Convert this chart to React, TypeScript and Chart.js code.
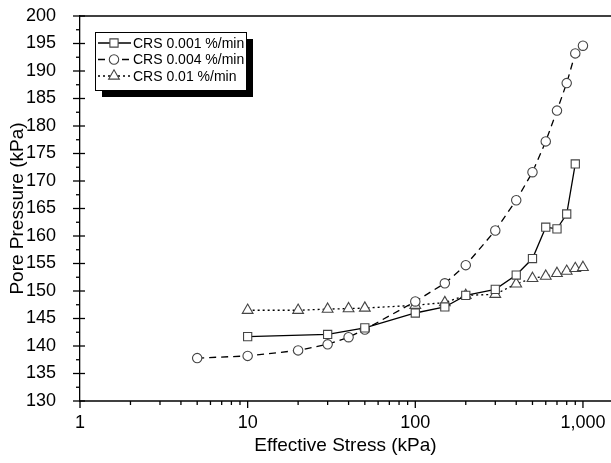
import { useEffect, useRef } from 'react';
import { Chart, registerables } from 'chart.js';

Chart.register(...registerables);

// ---- data ----
const stressSlow = [10, 30, 50, 100, 150, 200, 300, 400, 500, 600, 700, 800, 900];
const poreSlow = [141.7, 142.1, 143.3, 146.0, 147.1, 149.2, 150.3, 152.9, 155.9, 161.6, 161.3, 164.0, 173.1];

const stressMid = [5, 10, 20, 30, 40, 50, 100, 150, 200, 300, 400, 500, 600, 700, 800, 900, 1000];
const poreMid = [137.8, 138.2, 139.2, 140.3, 141.6, 143.0, 148.1, 151.4, 154.7, 161.0, 166.5, 171.6, 177.2, 182.8, 187.8, 193.2, 194.6];

const stressFast = [10, 20, 30, 40, 50, 100, 150, 200, 300, 400, 500, 600, 700, 800, 900, 1000];
const poreFast = [146.5, 146.5, 146.7, 146.8, 146.9, 147.4, 147.9, 149.2, 149.4, 151.3, 152.3, 152.7, 153.2, 153.6, 154.1, 154.3];

const seriesLabels = ['CRS 0.001 %/min', 'CRS 0.004 %/min', 'CRS 0.01 %/min'];

const xMajorTicks = [1, 10, 100, 1000];
const xMinorTicks = [2, 3, 4, 5, 6, 7, 8, 9, 20, 30, 40, 50, 60, 70, 80, 90, 200, 300, 400, 500, 600, 700, 800, 900];
const yMajorTicks = [130, 135, 140, 145, 150, 155, 160, 165, 170, 175, 180, 185, 190, 195, 200];
const yMinorTicks = [132.5, 137.5, 142.5, 147.5, 152.5, 157.5, 162.5, 167.5, 172.5, 177.5, 182.5, 187.5, 192.5, 197.5];

const FONT = '"Liberation Sans", Arial, sans-serif';

const toPoints = (xs: number[], ys: number[]) => xs.map((x, i) => ({ x, y: ys[i] }));

function markerPath(ctx: CanvasRenderingContext2D, style: string, x: number, y: number, r: number) {
  ctx.beginPath();
  if (style === 'rect') {
    const s = r / Math.SQRT2;
    ctx.rect(x - s, y - s, 2 * s, 2 * s);
  } else if (style === 'triangle') {
    const h = r * 1.5;
    const w = r * Math.sqrt(3) / 2;
    ctx.moveTo(x - w, y + h / 3);
    ctx.lineTo(x + w, y + h / 3);
    ctx.lineTo(x, y - (2 * h) / 3);
    ctx.closePath();
  } else {
    ctx.arc(x, y, r, 0, Math.PI * 2);
  }
}

const widenPlugin = {
  id: 'widen',
  afterLayout(chart: any) {
    const x = chart.scales.x;
    const w = chart.width;
    chart.chartArea.right = w;
    chart.chartArea.width = w - chart.chartArea.left;
    x.right = w;
    x.width = w - x.left;
    x.configure();
  },
};

const decorPlugin = {
  id: 'decor',
  afterDraw(chart: any) {
    const { ctx, chartArea, scales } = chart;
    const { left, right, top, bottom } = chartArea;
    const x = scales.x;
    const y = scales.y;
    ctx.save();
    ctx.strokeStyle = '#000';
    ctx.lineWidth = 1.3;
    const seg = (x1: number, y1: number, x2: number, y2: number) => {
      ctx.beginPath();
      ctx.moveTo(x1, y1);
      ctx.lineTo(x2, y2);
      ctx.stroke();
    };
    seg(left, top, right, top);
    seg(left, bottom, right, bottom);
    yMajorTicks.forEach((v) => {
      const py = y.getPixelForValue(v);
      seg(left - 7, py, left + 5, py);
    });
    yMinorTicks.forEach((v) => {
      const py = y.getPixelForValue(v);
      seg(left - 4, py, left, py);
    });
    xMajorTicks.forEach((v) => {
      const px = x.getPixelForValue(v);
      seg(px, bottom, px, bottom + 7);
    });
    xMinorTicks.forEach((v) => {
      const px = x.getPixelForValue(v);
      seg(px, bottom, px, bottom + 4);
    });

    // legend
    const bx = 95, by = 32, bw = 151, bh = 58;
    ctx.fillStyle = '#000';
    ctx.fillRect(bx + 7, by + 7, bw, bh);
    ctx.fillStyle = '#fff';
    ctx.fillRect(bx, by, bw, bh);
    ctx.lineWidth = 1;
    ctx.strokeStyle = '#000';
    ctx.strokeRect(bx + 0.5, by + 0.5, bw, bh);
    chart.data.datasets.forEach((ds: any, i: number) => {
      const cy = by + 11 + i * 16.5;
      ctx.save();
      ctx.strokeStyle = ds.borderColor;
      ctx.lineWidth = ds.borderWidth;
      ctx.setLineDash(ds.borderDash || []);
      seg(bx + 3, cy, bx + 36, cy);
      ctx.restore();
      ctx.fillStyle = ds.pointBackgroundColor;
      ctx.strokeStyle = ds.pointBorderColor;
      ctx.lineWidth = ds.pointBorderWidth;
      markerPath(ctx, ds.pointStyle, bx + 19, cy, ds.pointRadius);
      ctx.fill();
      ctx.stroke();
      ctx.fillStyle = '#000';
      ctx.font = `14px ${FONT}`;
      ctx.textAlign = 'left';
      ctx.textBaseline = 'middle';
      ctx.fillText(ds.label, bx + 38, cy + 1);
    });
    ctx.restore();
  },
};

export default function App() {
  const ref = useRef<HTMLCanvasElement | null>(null);
  useEffect(() => {
    if (!ref.current) return;
    const common = {
      showLine: true,
      borderColor: '#000',
      borderWidth: 1.3,
      pointBackgroundColor: '#fff',
      pointBorderColor: '#444',
      pointBorderWidth: 1.1,
      pointHoverRadius: 5,
    };
    const chart = new Chart(ref.current, {
      type: 'scatter',
      data: {
        datasets: [
          { ...common, label: seriesLabels[0], data: toPoints(stressSlow, poreSlow), pointStyle: 'rect', pointRadius: 5.8, borderDash: [] },
          { ...common, label: seriesLabels[1], data: toPoints(stressMid, poreMid), pointStyle: 'circle', pointRadius: 4.7, borderDash: [7, 5] },
          { ...common, label: seriesLabels[2], data: toPoints(stressFast, poreFast), pointStyle: 'triangle', pointRadius: 6.2, borderDash: [2, 3] },
        ],
      },
      options: {
        animation: false,
        responsive: false,
        clip: false,
        layout: { padding: { top: 16, right: 0, left: 0, bottom: 0 } },
        plugins: { legend: { display: false }, tooltip: { enabled: false } },
        scales: {
          x: {
            type: 'logarithmic',
            min: 1,
            max: 1470,
            grid: { display: false },
            border: { display: false },
            afterBuildTicks: (s: any) => {
              s.ticks = xMajorTicks.map((value) => ({ value }));
            },
            afterFit: (s: any) => {
              s.height = 62;
              s.paddingLeft = 0;
              s.paddingRight = 0;
            },
            ticks: {
              autoSkip: false,
              maxRotation: 0,
              padding: 3,
              color: '#000',
              font: { family: FONT, size: 18 },
              callback: (v: any) => Number(v).toLocaleString('en-US'),
            },
            title: {
              display: true,
              text: 'Effective Stress (kPa)',
              color: '#000',
              font: { family: FONT, size: 19 },
              padding: { top: 0, bottom: 6 },
            },
          },
          y: {
            type: 'linear',
            min: 130,
            max: 200,
            grid: { display: false },
            border: { display: true, color: '#000', width: 1.3 },
            afterBuildTicks: (s: any) => {
              s.ticks = yMajorTicks.map((value) => ({ value }));
            },
            afterFit: (s: any) => {
              s.width = 80;
              s.paddingTop = 0;
              s.paddingBottom = 0;
            },
            ticks: {
              padding: 16,
              color: '#000',
              font: { family: FONT, size: 18 },
            },
            title: {
              display: true,
              text: 'Pore Pressure (kPa)',
              color: '#000',
              font: { family: FONT, size: 19 },
              padding: { top: 6, bottom: 0 },
            },
          },
        },
      },
      plugins: [widenPlugin, decorPlugin],
    } as any);
    return () => chart.destroy();
  }, []);
  return (
    <div style={{ position: 'absolute', left: 0, top: 0, width: 611, height: 463, background: '#fff' }}>
      <canvas ref={ref} width={611} height={463} style={{ width: 611, height: 463, display: 'block' }} />
    </div>
  );
}
